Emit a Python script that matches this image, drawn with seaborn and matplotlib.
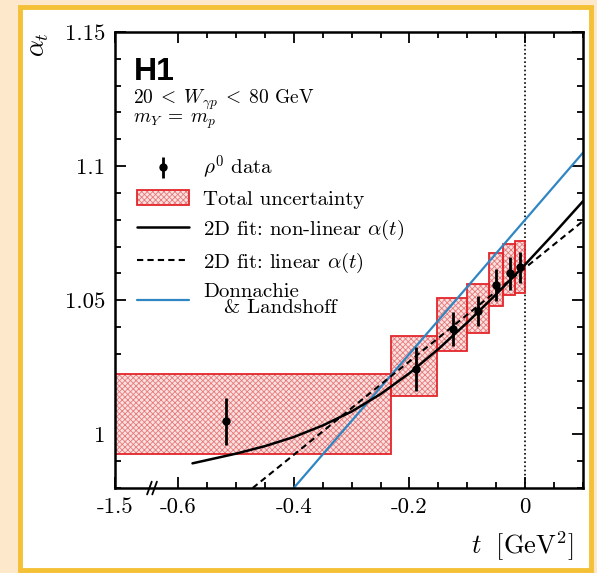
import matplotlib
matplotlib.use("Agg")
import matplotlib.pyplot as plt
from matplotlib.patches import Rectangle
from matplotlib.lines import Line2D
from matplotlib.ticker import MultipleLocator, FixedLocator
import seaborn as sns

# ---------------------------------------------------- data ----------------------------------------------------
# t bins [GeV^2] and total uncertainty band on alpha_t
bin_lo = [-1.5, -0.231, -0.152, -0.100, -0.062, -0.038, -0.017]
bin_hi = [-0.231, -0.152, -0.100, -0.062, -0.038, -0.017, 0.0]
band_lo = [0.9925, 1.0142, 1.0310, 1.0377, 1.0480, 1.0519, 1.0526]
band_hi = [1.0224, 1.0366, 1.0507, 1.0560, 1.0675, 1.0709, 1.0720]

# rho0 data points
t_data = [-0.517, -0.188, -0.124, -0.081, -0.050, -0.026, -0.009]
alpha_data = [1.0049, 1.0243, 1.0392, 1.0459, 1.0556, 1.0600, 1.0623]
alpha_err = [0.0088, 0.0082, 0.0063, 0.0056, 0.0060, 0.0060, 0.0058]

# 2D fit, non-linear alpha(t)
t_nonlin = [-0.575, -0.5, -0.45, -0.4, -0.35, -0.3, -0.25, -0.2, -0.15, -0.1, -0.05, 0.0, 0.05, 0.1]
alpha_nonlin = [0.9892, 0.9928, 0.9956, 0.9990, 1.0033, 1.0085, 1.0150, 1.0228, 1.0318, 1.0417, 1.0522, 1.0633, 1.0749, 1.0869]

# 2D fit, linear alpha(t)
t_lin = [-0.471, 0.1]
alpha_lin = [0.98, 1.0795]

# Donnachie & Landshoff
t_dl = [-0.4, 0.1]
alpha_dl = [0.98, 1.105]

x_ticks = [-0.709, -0.6, -0.4, -0.2, 0.0]
x_ticklabels = ['-1.5', '-0.6', '-0.4', '-0.2', '0']
y_ticks = [1.0, 1.05, 1.1, 1.15]
y_ticklabels = ['1', '1.05', '1.1', '1.15']

# ---------------------------------------------------- style ----------------------------------------------------
sns.set_style('ticks')
plt.rcParams['font.family'] = 'serif'
plt.rcParams['font.serif'] = ['cmr10', 'DejaVu Serif']
plt.rcParams['mathtext.fontset'] = 'cm'
plt.rcParams['axes.formatter.use_mathtext'] = True
plt.rcParams['hatch.linewidth'] = 0.6
for key in ['text.color', 'axes.labelcolor', 'xtick.color', 'ytick.color', 'axes.edgecolor']:
    plt.rcParams[key] = 'black'

RED = '#e3262b'
HATCH = '#e67a7a'
FILL = '#fbe0e0'
BLUE = '#2f86c3'

fig = plt.figure(figsize=(5.97, 5.73), dpi=100, facecolor='#fde8cc')
fig.patches.append(Rectangle((0.034, 0.006), 0.956, 0.982, transform=fig.transFigure,
                             facecolor='white', edgecolor='#f4c035', lw=3.5, zorder=-1))
ax = fig.add_axes([0.1926, 0.1483, 0.7839, 0.7959])

# uncertainty boxes: stippled fill + red outline
for lo, hi, blo, bhi in zip(bin_lo, bin_hi, band_lo, band_hi):
    ax.add_patch(Rectangle((lo, blo), hi - lo, bhi - blo, facecolor=FILL,
                           edgecolor=HATCH, hatch='xxxxxx', lw=0, zorder=1))
    ax.add_patch(Rectangle((lo, blo), hi - lo, bhi - blo, fill=False,
                           edgecolor=RED, lw=1.3, zorder=1.1))

# vertical dotted line at t = 0
ax.axvline(0, color='black', ls=(0, (1, 1.5)), lw=1.2, zorder=1)

sns.lineplot(x=t_dl, y=alpha_dl, ax=ax, color=BLUE, lw=1.6, zorder=2)
sns.lineplot(x=t_lin, y=alpha_lin, ax=ax, color='black', lw=1.5, ls=(0, (3, 2)), zorder=3)
sns.lineplot(x=t_nonlin, y=alpha_nonlin, ax=ax, color='black', lw=1.8, zorder=3, sort=True)

ax.errorbar(t_data, alpha_data, yerr=alpha_err, fmt='o', color='black', ms=5,
            elinewidth=2, capsize=0, zorder=4)

ax.set_xlim(-0.709, 0.1)
ax.set_ylim(0.98, 1.15)
ax.xaxis.set_major_locator(FixedLocator(x_ticks))
ax.set_xticklabels(x_ticklabels)
ax.xaxis.set_minor_locator(FixedLocator([-0.6 + 0.05 * i for i in range(15)]))
ax.yaxis.set_major_locator(FixedLocator(y_ticks))
ax.set_yticklabels(y_ticklabels)
ax.yaxis.set_minor_locator(MultipleLocator(0.01))
ax.tick_params(which='both', direction='in', top=True, right=True, labelsize=16.5, width=1.3)
ax.tick_params(which='major', length=8, pad=7)
ax.tick_params(which='minor', length=4)
for s in ax.spines.values():
    s.set_linewidth(1.8)

# axis break marks
for dx in (-0.0045, 0.0045):
    ax.plot([-0.645 + dx - 0.004, -0.645 + dx + 0.004], [-0.014, 0.014], color='black', lw=1.3,
            transform=ax.get_xaxis_transform(), clip_on=False, zorder=6)

ax.set_xlabel(r'$t\ \ [\mathrm{GeV}^2]$', fontsize=19)
ax.xaxis.set_label_coords(0.98, -0.09)
ax.xaxis.label.set_ha('right')
ax.set_ylabel(r'$\alpha_t$', fontsize=19, loc='top', labelpad=10)

ax.text(0.04, 0.945, 'H1', transform=ax.transAxes, fontsize=23, fontweight='bold',
        family='Liberation Sans', va='top')
ax.text(0.038, 0.877, r'$20\;<\;W_{\gamma p}\;<\;80$ GeV', transform=ax.transAxes, fontsize=14, va='top')
ax.text(0.038, 0.826, r'$m_Y\;=\;m_p$', transform=ax.transAxes, fontsize=14, va='top')

handles = [
    ax.errorbar([], [], yerr=[], fmt='o', color='black', ms=5, elinewidth=2, capsize=0),
    (Rectangle((0, 0), 1, 1, facecolor=FILL, edgecolor=HATCH, hatch='xxxxxx', lw=0),
     Rectangle((0, 0), 1, 1, fill=False, edgecolor=RED, lw=1.3)),
    Line2D([], [], color='black', lw=1.8),
    Line2D([], [], color='black', lw=1.5, ls=(0, (3, 2))),
    Line2D([], [], color=BLUE, lw=1.6),
]
labels = [r'$\rho^0$ data', 'Total uncertainty', r'2D fit: non-linear $\alpha(t)$',
          r'2D fit: linear $\alpha(t)$', 'Donnachie\n   & Landshoff']
leg = ax.legend(handles, labels, loc='upper left', bbox_to_anchor=(0.015, 0.765), frameon=False,
                fontsize=15, handlelength=2.5, handletextpad=0.7, labelspacing=0.42, borderpad=0.2)
leg.get_texts()[4].set_linespacing(0.85)

fig.savefig('out.png', dpi=100, facecolor=fig.get_facecolor())
